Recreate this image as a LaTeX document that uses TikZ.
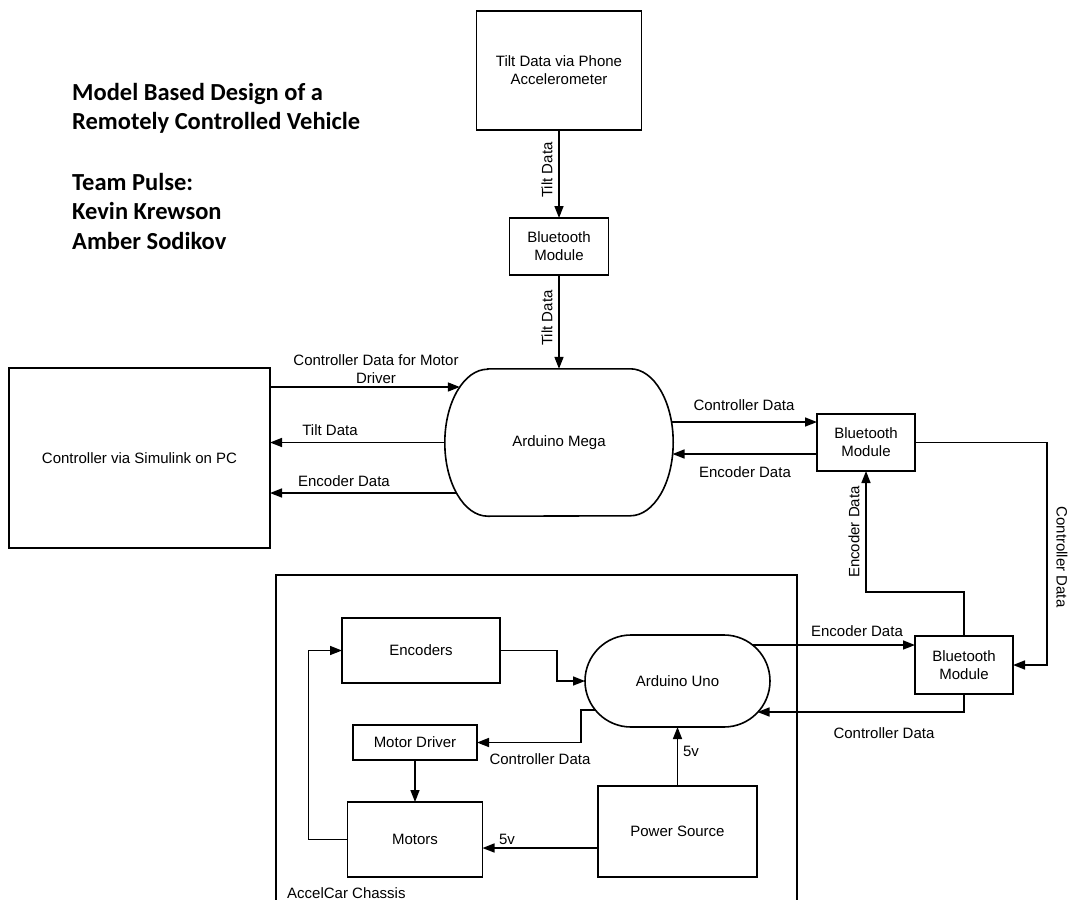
\documentclass[tikz,border=0pt]{standalone}
\usepackage{fontspec}
\setmainfont{Liberation Sans}
\newfontfamily\titlefont{Carlito}
\usetikzlibrary{arrows.meta,calc,shapes.misc}
\begin{document}
\begin{tikzpicture}[x=1pt,y=-1pt,
  ln/.style={line width=1.6pt},
  box/.style={draw,line width=1.6pt,align=center,inner sep=0pt,outer sep=0pt,
    font=\fontsize{15}{18}\selectfont},
  arr/.style={line width=1.6pt,-{Triangle[length=12pt,width=9pt]}},
  lbl/.style={inner sep=0pt,align=center,font=\fontsize{15}{18}\selectfont},
  ttl/.style={inner sep=0pt,anchor=base west,font=\titlefont\bfseries\fontsize{24.5}{29.5}\selectfont}]
\fill[white] (0,0) rectangle (1069,900);
\useasboundingbox (0,0) rectangle (1069,900);

% title
\node[ttl] (t1) at (72,100) {Model Based Design of a};
\node[ttl] (t2) at (72,129.5) {Remotely Controlled Vehicle};
\node[ttl] (t3) at (72,190) {Team Pulse:};
\node[ttl] (t4) at (72,219.5) {Kevin Krewson};
\node[ttl] (t5) at (72,249) {Amber Sodikov};

% upper nodes
\node[box,minimum width=165,minimum height=119] (phone) at (559,70.5) {Tilt Data via Phone\\Accelerometer};
\node[box,minimum width=99,minimum height=57] (bt1) at (559,246.5) {Bluetooth\\Module};
\node[lbl,minimum width=228,minimum height=147] (mega) at (559,442.5) {Arduino Mega};
\draw[ln] ($(mega.north west)+(43,0)$) -- ($(mega.north east)+(-43,0)$)
  arc[start angle=-90,end angle=90,x radius=43,y radius=73.5]
  -- ($(mega.south west)+(43,0)$)
  arc[start angle=90,end angle=270,x radius=43,y radius=73.5] -- cycle;
\node[box,minimum width=261,minimum height=180] (pc) at (139.5,458) {Controller via Simulink on PC};
\node[box,minimum width=98,minimum height=57] (bt2) at (866,442.5) {Bluetooth\\Module};
\node[box,minimum width=98,minimum height=58] (bt3) at (964,665) {Bluetooth\\Module};

% chassis
\draw[ln] (276,900) |- (797,575) -- (797,900);
\node[lbl,anchor=base west] (chl) at (287,898) {AccelCar Chassis};
\node[box,minimum width=158,minimum height=65] (enc) at (421,650.5) {Encoders};
\node[box,rounded rectangle,minimum width=185,minimum height=92] (uno) at (677.5,681) {Arduino Uno};
\node[box,minimum width=124,minimum height=35] (md) at (415,742.5) {Motor Driver};
\node[box,minimum width=135,minimum height=75] (mot) at (415,839.5) {Motors};
\node[box,minimum width=159,minimum height=91] (pwr) at (677.5,831.5) {Power Source};

% ports
\coordinate (mp1) at ($(mega.center)+(-99.2,-55.5)$);
\coordinate (mp3) at ($(mega.center)+(-102.3,50.5)$);
\coordinate (mp4) at ($(mega.center)+(112.3,-20.5)$);
\coordinate (mp5) at ($(mega.center)+(113.5,11.5)$);
\coordinate (up1) at (752,645);
\coordinate (up2) at (757.5,712);
\coordinate (up3) at (596,710);
\coordinate (cR) at (1047,665);
\coordinate (cE) at (866,592);
\coordinate (pw) at ($(pwr.west)+(0,16.5)$);

% connectors
\draw[arr] (phone.south) -- (bt1.north);
\draw[arr] (bt1.south) -- (mega.north);
\draw[arr] (pc.east |- mp1) -- (mp1);
\draw[arr] (mega.west) -- (pc.east |- mega.west);
\draw[arr] (mp3) -- (pc.east |- mp3);
\draw[arr] (mp4) -- (bt2.west |- mp4);
\draw[arr] (bt2.west |- mp5) -- (mp5);
\draw[arr] (bt2.east) -| (cR) -- (bt3.east);
\draw[arr] (bt3.north) |- (cE) -- (bt2.south);
\draw[arr] (up1) -- (bt3.west |- up1);
\draw[arr] (bt3.south) |- (up2);
\draw[arr] (enc.east) -- ++(57,0) |- (uno.west);
\draw[arr] (up3) -- ++(-15,0) |- (md.east);
\draw[arr] (md.south) -- (mot.north);
\draw[arr] (mot.west) -- ++(-39,0) |- (enc.west);
\draw[arr] (pw) -- (mot.east |- pw);
\draw[arr] (pwr.north) -- (uno.south);

% labels
\node[lbl,rotate=90] (lT1) at (547,170) {Tilt Data};
\node[lbl,rotate=90] (lT2) at (547,318) {Tilt Data};
\node[lbl] (lCM) at (376,369) {Controller Data for Motor\\Driver};
\node[lbl] (lT3) at (330,430) {Tilt Data};
\node[lbl] (lE1) at (344,481) {Encoder Data};
\node[lbl] (lC1) at (744,405) {Controller Data};
\node[lbl] (lE2) at (745,472) {Encoder Data};
\node[lbl,rotate=-90] (lC2) at (1062,557) {Controller Data};
\node[lbl,rotate=90] (lE3) at (854,532) {Encoder Data};
\node[lbl] (lE4) at (857,631) {Encoder Data};
\node[lbl] (lC3) at (884,733) {Controller Data};
\node[lbl] (lC4) at (540,759) {Controller Data};
\node[lbl] (l5a) at (691,751) {5v};
\node[lbl] (l5b) at (507,839) {5v};
\end{tikzpicture}
\end{document}
